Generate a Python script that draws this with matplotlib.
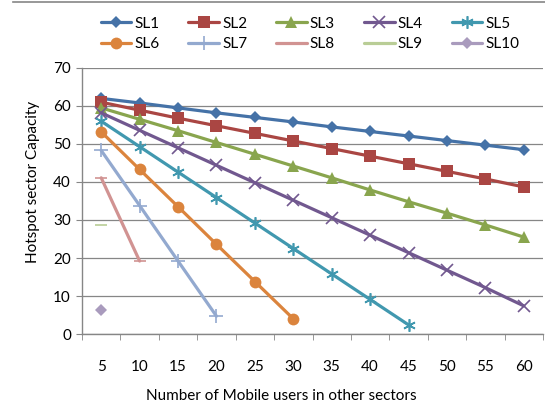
import matplotlib
matplotlib.use("Agg")
import matplotlib.pyplot as plt
from matplotlib.lines import Line2D

plt.rcParams['font.family'] = ['Lato', 'DejaVu Sans']

categories = ["5", "10", "15", "20", "25", "30", "35", "40", "45", "50", "55", "60"]
series_names = ["SL1", "SL2", "SL3", "SL4", "SL5", "SL6", "SL7", "SL8", "SL9", "SL10"]
SL1 = [62.0, 60.8, 59.5, 58.2, 57.0, 55.8, 54.5, 53.3, 52.1, 50.9, 49.7, 48.5]
SL2 = [61.0, 58.9, 56.8, 54.8, 52.8, 50.8, 48.8, 46.8, 44.8, 42.8, 40.8, 38.7]
SL3 = [59.5, 56.5, 53.5, 50.4, 47.3, 44.2, 41.1, 37.9, 34.8, 31.8, 28.7, 25.5]
SL4 = [58.2, 53.6, 49.0, 44.4, 39.8, 35.2, 30.6, 26.0, 21.4, 16.8, 12.2, 7.4]
SL5 = [56.0, 49.3, 42.6, 35.9, 29.2, 22.5, 15.8, 9.1, 2.4]
SL6 = [53.2, 43.3, 33.5, 23.6, 13.8, 4.0]
SL7 = [48.3, 33.8, 19.2, 4.7]
SL8 = [41.1, 19.2]
SL9 = [28.7]
SL10 = [6.2]
data = [SL1, SL2, SL3, SL4, SL5, SL6, SL7, SL8, SL9, SL10]

colors = ["#4572A7", "#AA4643", "#89A54E", "#71588F", "#4198AF",
          "#DB843D", "#93A9CF", "#D19392", "#B9CD96", "#A99BBD"]
markers = ["D", "s", "^", "x", (6, 2, 0), "o", "+", "_", "_", "D"]
msizes = [6.5, 8, 9, 8, 9, 8.5, 10, 8, 8, 6.5]

fig = plt.figure(figsize=(5.45, 4.12), dpi=100)
ax = fig.add_axes([82/545, 1-334/412, (543-82)/545, (334-68)/412])

handles = []
for name, vals, c, m, ms in zip(series_names, data, colors, markers, msizes):
    x = list(range(len(vals)))
    if m in ("x", "+", "_") or isinstance(m, tuple):
        mkw = dict(markeredgewidth=1.2, markeredgecolor=c, markerfacecolor=c)
    else:
        mkw = dict(markeredgewidth=0, markerfacecolor=c)
    h, = ax.plot(x, vals, color=c, lw=2.3, marker=m, markersize=ms, label=name,
                 solid_capstyle='round', **mkw)
    handles.append(h)

ax.set_xlim(-0.5, len(categories) - 0.5)
ax.set_ylim(0, 70)
ax.set_yticks(range(0, 71, 10))
ax.set_xticks(range(len(categories)))
ax.set_xticklabels(categories)
ax.set_xticks([i - 0.5 for i in range(len(categories) + 1)], minor=True)
ax.tick_params(axis='x', which='major', length=0, pad=19, labelsize=11)
ax.tick_params(axis='x', which='minor', length=4, color='#868686', direction='out')
ax.tick_params(axis='y', length=4, color='#868686', direction='out', labelsize=11, pad=4)
ax.grid(axis='y', color='#868686', lw=0.9)
ax.set_axisbelow(True)
for s in ['top', 'right']:
    ax.spines[s].set_visible(False)
for s in ['left', 'bottom']:
    ax.spines[s].set_color('#868686')
    ax.spines[s].set_linewidth(1.0)

fig.text(281/545, 1-396/412, "Number of Mobile users in other sectors",
         ha='center', va='center', fontsize=11)
fig.text(33/545, 1-182/412, "Hotspot sector Capacity", rotation=90,
         ha='center', va='center', fontsize=11)

# row-wise legend ordering (matplotlib fills legend columns first)
ncol = 5
order = [r * ncol + c for c in range(ncol) for r in range(2)]
leg = fig.legend(handles=[handles[i] for i in order], ncol=ncol, loc='center',
                 bbox_to_anchor=(310/545, 1-34/412),
                 frameon=False, fontsize=11, handlelength=2.0, handletextpad=0.2,
                 columnspacing=1.9, labelspacing=0.45)

fig.add_artist(Line2D([13/545, 1], [1-2/412, 1-2/412], color='#868686', lw=1.2,
                      transform=fig.transFigure))

fig.savefig("out.png", dpi=100)
